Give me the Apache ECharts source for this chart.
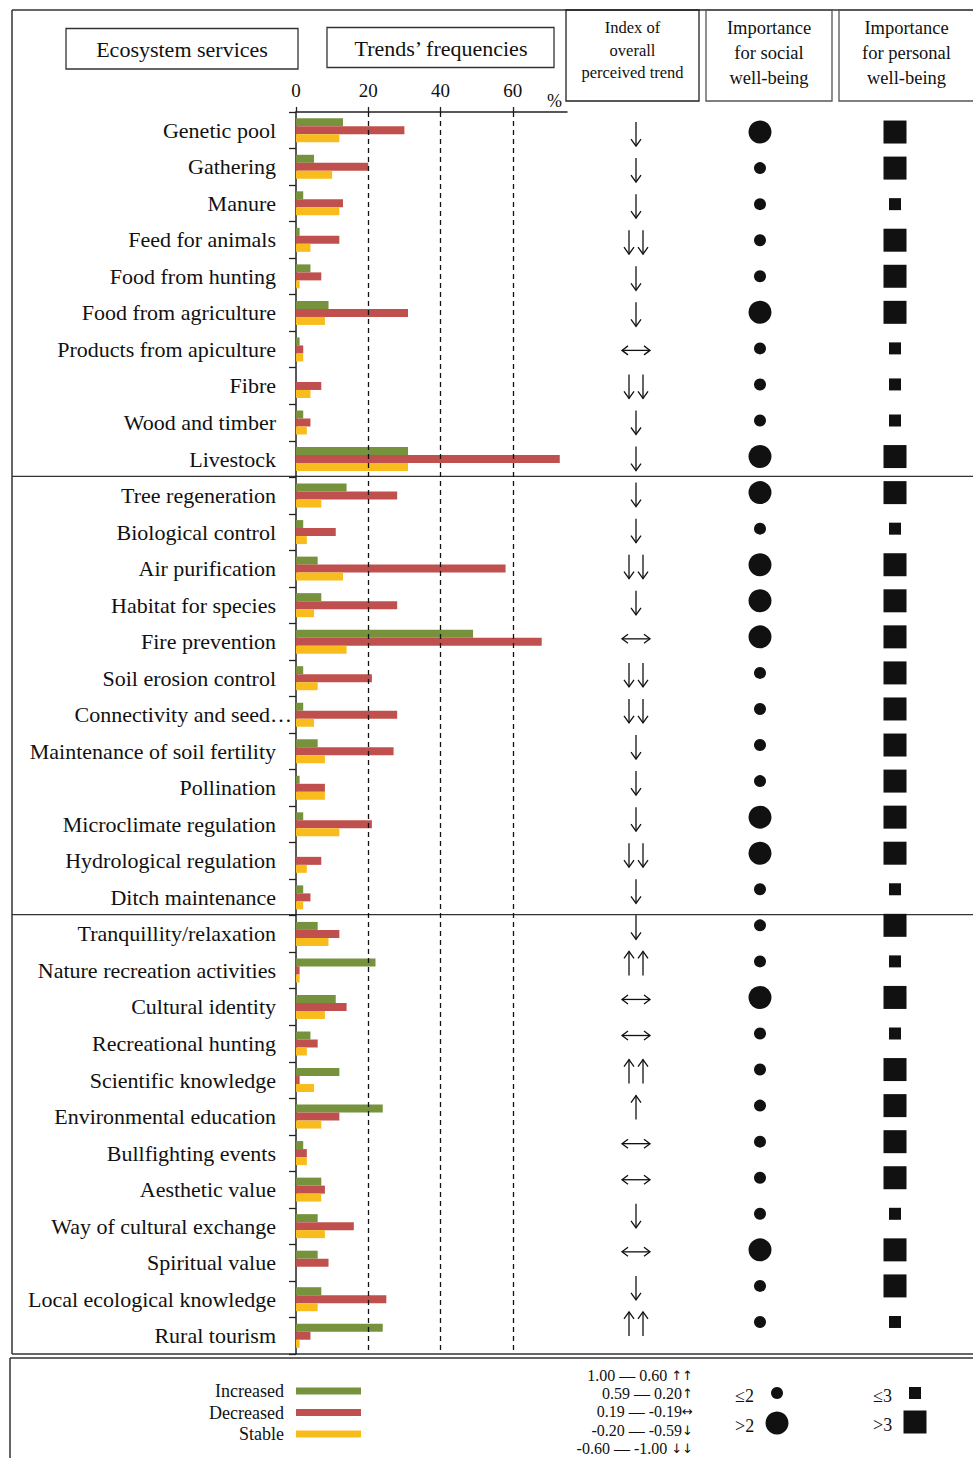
<!DOCTYPE html>
<html>
<head>
<meta charset="utf-8">
<script src="https://cdn.jsdelivr.net/npm/echarts@6/dist/echarts.min.js"></script>
<style>
  html, body { margin: 0; padding: 0; background: #fff; }
  #chart { width: 973px; height: 1458px; }
</style>
</head>
<body>
<div id="chart"></div>
<script>
// Ecosystem services, grouped as provisioning / regulating / cultural
const services = [
  'Genetic pool', 'Gathering', 'Manure', 'Feed for animals', 'Food from hunting',
  'Food from agriculture', 'Products from apiculture', 'Fibre', 'Wood and timber', 'Livestock',
  'Tree regeneration', 'Biological control', 'Air purification', 'Habitat for species',
  'Fire prevention', 'Soil erosion control', 'Connectivity and seed dispersal',
  'Maintenance of soil fertility', 'Pollination', 'Microclimate regulation',
  'Hydrological regulation', 'Ditch maintenance',
  'Tranquillity/relaxation', 'Nature recreation activities', 'Cultural identity',
  'Recreational hunting', 'Scientific knowledge', 'Environmental education',
  'Bullfighting events', 'Aesthetic value', 'Way of cultural exchange', 'Spiritual value',
  'Local ecological knowledge', 'Rural tourism'
];
// last service of each group (a divider is drawn below it)
const groupEnds = ['Livestock', 'Ditch maintenance'];

// Trends' frequencies (%)
const increased = [13, 5, 2, 1, 4, 9, 1, 0, 2, 31,
  14, 2, 6, 7, 49, 2, 2, 6, 1, 2, 0, 2,
  6, 22, 11, 4, 12, 24, 2, 7, 6, 6, 7, 24];
const decreased = [30, 20, 13, 12, 7, 31, 2, 7, 4, 73,
  28, 11, 58, 28, 68, 21, 28, 27, 8, 21, 7, 4,
  12, 1, 14, 6, 1, 12, 3, 8, 16, 9, 25, 4];
const stable = [12, 10, 12, 4, 1, 8, 2, 4, 3, 31,
  7, 3, 13, 5, 14, 6, 5, 8, 8, 12, 3, 2,
  9, 1, 8, 3, 5, 7, 3, 7, 8, 0, 6, 1];

// Index of overall perceived trend (class symbol)
const trend = ['↓', '↓', '↓', '↓↓', '↓', '↓', '↔', '↓↓', '↓', '↓',
  '↓', '↓', '↓↓', '↓', '↔', '↓↓', '↓↓', '↓', '↓', '↓', '↓↓', '↓',
  '↓', '↑↑', '↔', '↔', '↑↑', '↑', '↔', '↔', '↓', '↔', '↓', '↑↑'];

// Importance for social well-being (score class)
const social = ['>2', '≤2', '≤2', '≤2', '≤2', '>2', '≤2', '≤2', '≤2', '>2',
  '>2', '≤2', '>2', '>2', '>2', '≤2', '≤2', '≤2', '≤2', '>2', '>2', '≤2',
  '≤2', '≤2', '>2', '≤2', '≤2', '≤2', '≤2', '≤2', '≤2', '>2', '≤2', '≤2'];

// Importance for personal well-being (score class)
const personal = ['>3', '>3', '≤3', '>3', '>3', '>3', '≤3', '≤3', '≤3', '>3',
  '>3', '≤3', '>3', '>3', '>3', '>3', '>3', '>3', '>3', '>3', '>3', '≤3',
  '>3', '≤3', '>3', '≤3', '>3', '>3', '>3', '>3', '≤3', '>3', '>3', '≤3'];

const freqTicks = [0, 20, 40, 60];
const trendRanges = ['1.00 — 0.60 ', '0.59 — 0.20', '0.19 — -0.19', '-0.20 — -0.59', '-0.60 — -1.00 '];
const trendSymbols = ['↑↑', '↑', '↔', '↓', '↓↓'];
const socialClasses = ['≤2', '>2'];
const personalClasses = ['≤3', '>3'];

// ---- styling ----
const FONT = '"Liberation Serif", "Times New Roman", serif';
const ARROW_FONT = '"DejaVu Sans", sans-serif';
const INK = '#111';
const FRAME = '#333';
const COLORS = { Increased: '#76923C', Decreased: '#C0504D', Stable: '#F9BC1D' };
const SOCIAL_SIZE = { '≤2': 12, '>2': 23 };
const PERSONAL_SIZE = { '≤3': 12, '>3': 23 };
const LABEL_MAX_CHARS = 30;

function shortName(name) {
  return name.length > LABEL_MAX_CHARS ? name.slice(0, 21) + '…' : name;
}

// thin open-headed arrows for the trend column
function arrowGlyph(kind, x, y) {
  const H = 24, hw = 5, hh = 7;
  const vert = (cx, dir) => {
    const tip = y + dir * H / 2;
    return [
      { type: 'line', shape: { x1: cx, y1: y - dir * H / 2, x2: cx, y2: tip } },
      { type: 'polyline', shape: { points: [[cx - hw, tip - dir * hh], [cx, tip], [cx + hw, tip - dir * hh]] } }
    ];
  };
  let parts;
  if (kind === '↓') parts = vert(x, 1);
  else if (kind === '↑') parts = vert(x, -1);
  else if (kind === '↓↓') parts = vert(x - 7, 1).concat(vert(x + 7, 1));
  else if (kind === '↑↑') parts = vert(x - 7, -1).concat(vert(x + 7, -1));
  else {
    const L = 14, ah = 6, aw = 4.5;
    parts = [
      { type: 'line', shape: { x1: x - L, y1: y, x2: x + L, y2: y } },
      { type: 'polyline', shape: { points: [[x - L + ah, y - aw], [x - L, y], [x - L + ah, y + aw]] } },
      { type: 'polyline', shape: { points: [[x + L - ah, y - aw], [x + L, y], [x + L - ah, y + aw]] } }
    ];
  }
  parts.forEach(p => { p.style = { stroke: INK, lineWidth: 1.3, fill: 'none' }; });
  return parts;
}

const chart = echarts.init(document.getElementById('chart'), null, { renderer: 'svg' });

const colGrid = { top: 114, height: 1226 };
const hiddenCat = (gridIndex, name) => ({
  type: 'category', gridIndex, data: [name], show: false
});
const hiddenRows = (gridIndex) => ({
  type: 'category', gridIndex, data: services, inverse: true, show: false
});

function barSeries(name, values, withGuides) {
  const s = {
    name, type: 'bar', data: values, barWidth: 8, barGap: '0%',
    itemStyle: { color: COLORS[name] },
    silent: true
  };
  if (withGuides) {
    s.markLine = {
      silent: true, symbol: 'none', animation: false,
      label: { show: false },
      lineStyle: { type: [5, 4], color: INK, width: 1.3 },
      data: freqTicks.filter(v => v > 0).map(v => ({ xAxis: v }))
    };
  }
  return s;
}

function headerBox(id, x, y, w, h, text, fontSize, lineHeight, cx, cy, stroke) {
  return [
    { type: 'rect', id: id + '-box', shape: { x, y, width: w, height: h },
      style: { fill: 'none', stroke: stroke || FRAME, lineWidth: 1.3 }, silent: true },
    { type: 'text', id: id + '-text', x: cx, y: cy,
      style: { text, fontSize, fontFamily: FONT, fill: INK, align: 'center',
               verticalAlign: 'middle', lineHeight }, silent: true }
  ];
}

const line = (id, x1, y1, x2, y2, w) => ({
  type: 'line', id, shape: { x1, y1, x2, y2 },
  style: { stroke: FRAME, lineWidth: w || 1.5 }, silent: true
});

const graphics = [
  // outer frame
  line('frame-top', 12, 10, 973, 10),
  line('frame-left', 12, 10, 12, 1354),
  line('frame-bottom', 12, 1354, 973, 1354),
  line('legend-top', 10, 1358, 973, 1358),
  line('legend-left', 10, 1358, 10, 1460),
  // column headers
  ...headerBox('h-es', 66, 28.5, 232, 40.5, 'Ecosystem services', 22, 26, 182, 49),
  ...headerBox('h-tf', 327, 27.5, 227, 40, 'Trends’ frequencies', 22, 26, 441, 48),
  ...headerBox('h-idx', 566, 10, 133, 91, 'Index of\noverall\nperceived trend', 16.5, 22.5, 632.5, 50, '#222'),
  ...headerBox('h-soc', 706, 10, 126, 91, 'Importance\nfor social\nwell-being', 18.5, 25, 769, 53, '#555'),
  ...headerBox('h-per', 839, 10, 140, 91, 'Importance\nfor personal\nwell-being', 18.5, 25, 906.5, 53, '#555'),
];

// trend index classes
trendRanges.forEach((t, i) => {
  graphics.push({ type: 'text', id: 'tc-' + i, x: 693, y: 1375 + i * 18.4,
    style: {
      text: '{r|' + t + '}{a|' + trendSymbols[i] + '}',
      align: 'right', verticalAlign: 'middle',
      rich: {
        r: { fontSize: 16, fontFamily: FONT, fill: INK, color: INK },
        a: { fontSize: 13, fontFamily: ARROW_FONT, fill: INK, color: INK }
      }
    },
    silent: true });
});
// social importance classes
socialClasses.forEach((c, i) => {
  const cy = 1393 + i * 30;
  graphics.push({ type: 'text', id: 'sc-t-' + i, x: 735, y: cy + 3,
    style: { text: c, fontSize: 18, fontFamily: FONT, fill: INK, align: 'left', verticalAlign: 'middle' }, silent: true });
  graphics.push({ type: 'circle', id: 'sc-s-' + i, shape: { cx: 777, cy, r: SOCIAL_SIZE[c] / 2 },
    style: { fill: INK }, silent: true });
});
// personal importance classes
personalClasses.forEach((c, i) => {
  const cy = 1393 + i * 29;
  const s = PERSONAL_SIZE[c];
  graphics.push({ type: 'text', id: 'pc-t-' + i, x: 873, y: cy + 3,
    style: { text: c, fontSize: 18, fontFamily: FONT, fill: INK, align: 'left', verticalAlign: 'middle' }, silent: true });
  graphics.push({ type: 'rect', id: 'pc-s-' + i, shape: { x: 915 - s / 2, y: cy - s / 2, width: s, height: s },
    style: { fill: INK }, silent: true });
});

const option = {
  animation: false,
  backgroundColor: '#fff',
  textStyle: { fontFamily: FONT, color: INK },
  legend: {
    data: ['Increased', 'Decreased', 'Stable'],
    orient: 'vertical', align: 'right', right: 612, top: 1382,
    padding: 0, itemWidth: 65, itemHeight: 7, itemGap: 3.5,
    icon: 'rect', selectedMode: false,
    textStyle: { fontSize: 18, fontFamily: FONT, color: INK, lineHeight: 18, padding: [0, 7, 0, 0] }
  },
  grid: [
    { left: 296, top: 112, width: 271, height: 1242 },
    { left: 566, width: 140, ...colGrid },
    { left: 700, width: 120, ...colGrid },
    { left: 840, width: 110, ...colGrid }
  ],
  xAxis: [
    {
      type: 'value', gridIndex: 0, position: 'top', min: 0, max: 75,
      name: '%', nameLocation: 'end', nameGap: -5,
      nameTextStyle: { fontSize: 18, fontFamily: FONT, color: INK, align: 'right', verticalAlign: 'bottom', padding: [0, 0, 2, 0] },
      axisLine: { show: true, lineStyle: { color: '#222', width: 1.5 } },
      axisTick: { show: true, length: 5, customValues: freqTicks, lineStyle: { color: '#222', width: 1.3 } },
      axisLabel: { customValues: freqTicks, fontSize: 19, fontFamily: FONT, color: INK, margin: 12 },
      splitLine: { show: false }
    },
    hiddenCat(1, 'trend'),
    hiddenCat(2, 'social'),
    hiddenCat(3, 'personal')
  ],
  yAxis: [
    {
      type: 'category', gridIndex: 0, data: services, inverse: true,
      axisLine: { show: true, lineStyle: { color: '#222', width: 1.5 } },
      axisTick: { show: true, length: 7, lineStyle: { color: '#222', width: 1.3 } },
      axisLabel: {
        interval: 0, margin: 4,
        formatter: v => v.length > LABEL_MAX_CHARS ? '{t|' + shortName(v) + '}' : '{n|' + v + '}',
        rich: {
          n: { fontSize: 22, fontFamily: FONT, color: INK, padding: [0, 16, 0, 0] },
          t: { fontSize: 22, fontFamily: FONT, color: INK }
        }
      },
      splitLine: { show: false }
    },
    hiddenRows(1), hiddenRows(2), hiddenRows(3)
  ],
  series: [
    barSeries('Increased', increased, true),
    barSeries('Decreased', decreased, false),
    barSeries('Stable', stable, false),
    {
      name: 'trend', type: 'custom', xAxisIndex: 1, yAxisIndex: 1, silent: true,
      data: services.map((s, i) => ['trend', i]),
      renderItem: (params, api) => {
        const pt = api.coord([api.value(0), api.value(1)]);
        return { type: 'group', children: arrowGlyph(trend[params.dataIndex], pt[0], pt[1] + 2) };
      }
    },
    {
      name: 'social', type: 'scatter', xAxisIndex: 2, yAxisIndex: 2, silent: true,
      data: services.map((s, i) => ['social', i]),
      symbol: 'circle',
      symbolSize: (v, p) => SOCIAL_SIZE[social[p.dataIndex]],
      itemStyle: { color: INK, opacity: 1 }
    },
    {
      name: 'personal', type: 'scatter', xAxisIndex: 3, yAxisIndex: 3, silent: true,
      data: services.map((s, i) => ['personal', i]),
      symbol: 'rect',
      symbolSize: (v, p) => PERSONAL_SIZE[personal[p.dataIndex]],
      itemStyle: { color: INK, opacity: 1 }
    }
  ],
  graphic: { elements: graphics }
};

chart.setOption(option);

// group dividers sit on the band boundary below each group's last service
const dividers = groupEnds.map((name, i) => {
  const idx = services.indexOf(name);
  const a = chart.convertToPixel({ yAxisIndex: 0 }, services[idx]);
  const b = chart.convertToPixel({ yAxisIndex: 0 }, services[idx + 1]);
  const y = (a + b) / 2 - 1;
  return line('divider-' + i, 12, y, 973, y, 1.3);
});
chart.setOption({ graphic: { elements: dividers } });
</script>
</body>
</html>
